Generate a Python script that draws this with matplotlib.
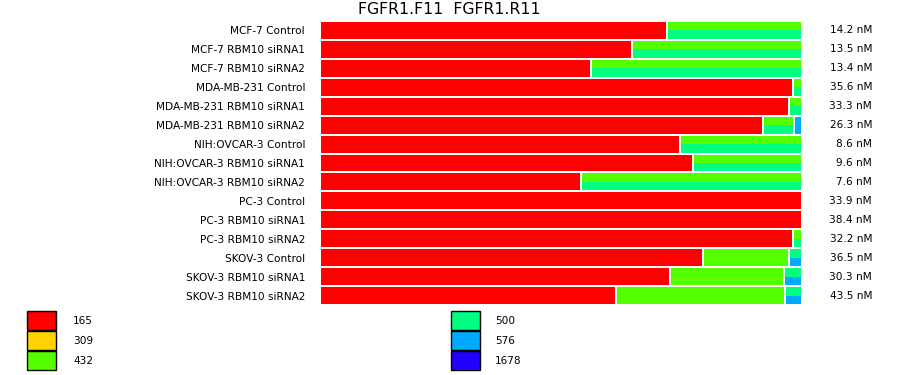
import matplotlib
matplotlib.use("Agg")
import matplotlib.pyplot as plt
from matplotlib.patches import Rectangle
import matplotlib.transforms as mtransforms

samples = ["MCF-7 Control", "MCF-7 RBM10 siRNA1", "MCF-7 RBM10 siRNA2",
           "MDA-MB-231 Control", "MDA-MB-231 RBM10 siRNA1", "MDA-MB-231 RBM10 siRNA2",
           "NIH:OVCAR-3 Control", "NIH:OVCAR-3 RBM10 siRNA1", "NIH:OVCAR-3 RBM10 siRNA2",
           "PC-3 Control", "PC-3 RBM10 siRNA1", "PC-3 RBM10 siRNA2",
           "SKOV-3 Control", "SKOV-3 RBM10 siRNA1", "SKOV-3 RBM10 siRNA2"]
concentrations = ["14.2 nM", "13.5 nM", "13.4 nM", "35.6 nM", "33.3 nM", "26.3 nM",
                  "8.6 nM", "9.6 nM", "7.6 nM", "33.9 nM", "38.4 nM", "32.2 nM",
                  "36.5 nM", "30.3 nM", "43.5 nM"]

legend_labels = ["165", "309", "432", "500", "576", "1678"]
legend_colors = ["#FF0000", "#FFD200", "#55FF00", "#00FF80", "#00AAFF", "#2200FF"]

# segment widths (percent) for each sample
seg_widths = [
    [71.9, 28.1], [64.6, 35.4], [56.0, 44.0], [98.1, 1.9], [97.3, 2.7],
    [91.9, 6.5, 1.6], [74.6, 25.4], [77.3, 22.7], [54.0, 46.0],
    [100.0], [100.0], [98.1, 1.9],
    [79.4, 17.9, 2.7], [72.5, 23.8, 3.7], [61.3, 35.2, 3.5],
]
# top-half colour (FGFR1.F11) per segment, as legend labels
seg_top = [
    ["165", "432"], ["165", "432"], ["165", "432"], ["165", "432"], ["165", "432"],
    ["165", "432", "576"], ["165", "432"], ["165", "432"], ["165", "432"],
    ["165"], ["165"], ["165", "432"],
    ["165", "432", "500"], ["165", "432", "500"], ["165", "432", "500"],
]
# bottom-half colour (FGFR1.R11) per segment
seg_bottom = [
    ["165", "500"], ["165", "500"], ["165", "500"], ["165", "500"], ["165", "500"],
    ["165", "500", "576"], ["165", "500"], ["165", "500"], ["165", "500"],
    ["165"], ["165"], ["165", "500"],
    ["165", "432", "576"], ["165", "432", "576"], ["165", "432", "576"],
]

cmap = dict(zip(legend_labels, legend_colors))

W, H = 900, 375
fig = plt.figure(figsize=(W / 100, H / 100), dpi=100)
plt.rcParams['font.family'] = ['DejaVu Sans']

ax = fig.add_axes([321 / W, 1 - 305 / H, 480 / W, 284 / H])
bh = 17 / 19
gap = 2 / 480 * 100
for i, (ws, tops, bots) in enumerate(zip(seg_widths, seg_top, seg_bottom)):
    left = 0.0
    for j, (w, ct, cb) in enumerate(zip(ws, tops, bots)):
        l0 = left + (gap if j > 0 else 0)
        ww = left + w - l0
        if ct == cb:
            ax.barh(i, ww, left=l0, height=bh, color=cmap[ct], linewidth=0)
        else:
            ax.barh(i - bh / 4, ww, left=l0, height=bh / 2, color=cmap[ct], linewidth=0)
            ax.barh(i + bh / 4, ww, left=l0, height=bh / 2, color=cmap[cb], linewidth=0)
        left += w

ax.set_xlim(0, 100)
ax.set_ylim(len(samples) - 0.5, -0.5)
ax.set_yticks(range(len(samples)))
ax.set_yticklabels(samples, fontsize=7.6)
ax.tick_params(axis='y', length=0, pad=11.5)
ax.set_xticks([])
for s in ax.spines.values():
    s.set_visible(False)

trans = mtransforms.blended_transform_factory(fig.transFigure, ax.transData)
for i, c in enumerate(concentrations):
    ax.text(872 / W, i, c, transform=trans, ha='right', va='center', fontsize=7.6)

fig.text(449 / W, 1 - 10 / H, "FGFR1.F11  FGFR1.R11", ha='center', va='center', fontsize=11.3)

# legend
lax = fig.add_axes([0, 0, 1, 1])
lax.set_xlim(0, W)
lax.set_ylim(H, 0)
lax.axis('off')
positions = [(27, 73), (451, 495)]
for k, (lab, col) in enumerate(zip(legend_labels, legend_colors)):
    bx, tx = positions[k // 3]
    y0 = 311 + (k % 3) * 20
    lax.add_patch(Rectangle((bx, y0), 29, 19, facecolor=col, edgecolor='black', linewidth=1))
    lax.text(tx, y0 + 10, lab, ha='left', va='center', fontsize=7.6)

fig.savefig("out.png", dpi=100)
